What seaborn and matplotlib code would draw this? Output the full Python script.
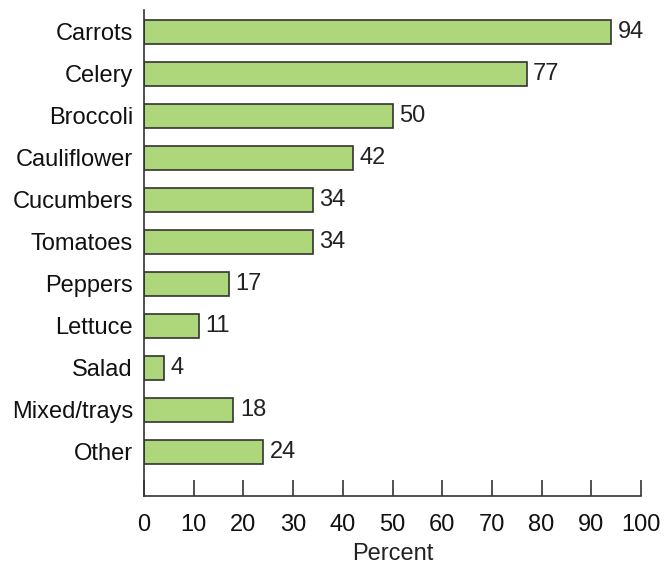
import pandas as pd
import matplotlib
matplotlib.use("Agg")
import matplotlib.pyplot as plt
import seaborn as sns

# Data
categories = ["Carrots", "Celery", "Broccoli", "Cauliflower", "Cucumbers", "Tomatoes",
              "Peppers", "Lettuce", "Salad", "Mixed/trays", "Other"]
percent = [94, 77, 50, 42, 34, 34, 17, 11, 4, 18, 24]
x_ticks = [0, 10, 20, 30, 40, 50, 60, 70, 80, 90, 100]

df = pd.DataFrame({"category": categories, "percent": percent})

sns.set_style("white")
plt.rcParams["font.family"] = ["Liberation Sans", "DejaVu Sans"]

fig = plt.figure(figsize=(6.64, 5.65), dpi=100)
ax = fig.add_axes([0.2169, 0.1221, 0.7485, 0.8602])

sns.barplot(data=df, x="percent", y="category", orient="h", color="#aed67a",
            saturation=1, edgecolor="#333333", linewidth=1.2, width=0.57, ax=ax)

fs = 17
for i, v in enumerate(percent):
    ax.text(v + 1.3, i, str(v), va="center", ha="left", fontsize=fs, color="#222222")

ax.set_xlim(0, 100)
ax.set_ylim(11.05, -0.52)
ax.set_xticks(x_ticks)
ax.set_xticklabels([str(t) for t in x_ticks], fontsize=fs, color="#111111")
ax.set_xlabel("Percent", fontsize=fs, color="#222222", labelpad=5)
ax.set_ylabel("")
ax.tick_params(axis="x", bottom=True, direction="in", length=11.5, width=1.2,
               color="#333333", pad=13)
ax.tick_params(axis="y", left=False, length=0, labelsize=fs, labelcolor="#111111", pad=8)

sns.despine(ax=ax, top=True, right=True)
for s in ["left", "bottom"]:
    ax.spines[s].set_color("#333333")
    ax.spines[s].set_linewidth(1.2)

fig.savefig("out.png", dpi=100)
plt.close(fig)
